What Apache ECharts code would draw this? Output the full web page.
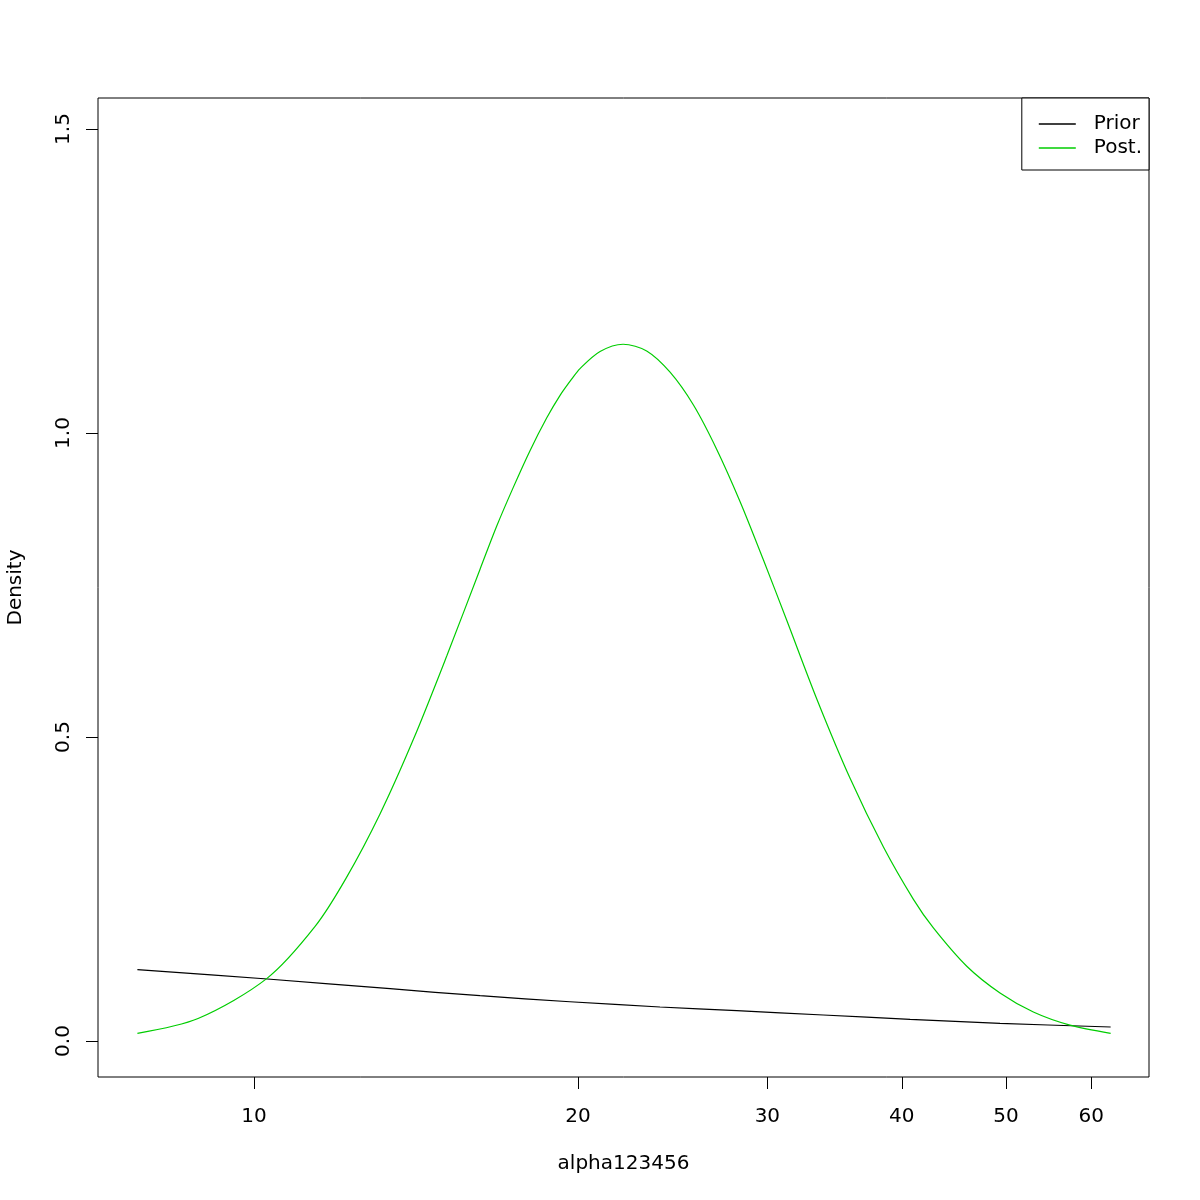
<!DOCTYPE html>
<html><head><meta charset="utf-8">
<script src="https://cdn.jsdelivr.net/npm/echarts@6/dist/echarts.min.js"></script>
<style>html,body{margin:0;padding:0;background:#fff}#c{width:1200px;height:1200px}</style>
</head><body><div id="c"></div>
<script>
// ---- data ----
const seriesNames = ['Prior', 'Post.'];
const priorAlpha   = [7.79, 10.29, 13.38, 16.22, 19.66, 23.84, 28.10, 33.81, 40.72, 49.36, 62.55];
const priorDensity = [0.1173, 0.1020, 0.0860, 0.0745, 0.0646, 0.0559, 0.0500, 0.0428, 0.0357, 0.0291, 0.0230];
const postAlpha   = [7.79, 8.87, 10.28, 11.39, 12.17, 13.09, 14.07, 15.11, 16.22, 16.81, 17.42, 18.05, 18.71, 19.25, 19.74, 20.09, 20.97, 22.03, 23.17, 24.36, 25.61, 26.92, 28.30, 29.75, 31.27, 33.34, 35.81, 38.46, 41.01, 42.80, 45.97, 49.36, 53.01, 57.33, 62.55];
const postDensity = [0.0127, 0.0370, 0.103, 0.188, 0.267, 0.373, 0.497, 0.634, 0.776, 0.847, 0.911, 0.971, 1.025, 1.062, 1.089, 1.106, 1.134, 1.146, 1.135, 1.100, 1.046, 0.973, 0.887, 0.791, 0.692, 0.563, 0.432, 0.319, 0.233, 0.186, 0.123, 0.079, 0.0478, 0.0262, 0.0127];
const xTickValues = [10, 20, 30, 40, 50, 60];
const yTickValues = [0, 0.5, 1.0, 1.5];
const xTitle = 'alpha123456';
const yTitle = 'Density';
const xRange = [7.16, 67.9];
const yRange = [-0.0592, 1.551];

const FONT = 'DejaVu Sans';
const toPts = (xs, ys) => xs.map((x, i) => [Math.log10(x), ys[i]]);

const chart = echarts.init(document.getElementById('c'), null, {renderer: 'canvas'});
chart.setOption({
  animation: false,
  backgroundColor: '#fff',
  textStyle: {fontFamily: FONT},
  grid: {left: 98, right: 51, top: 98, bottom: 123, show: true, borderColor: '#000', borderWidth: 1, backgroundColor: 'transparent', outerBoundsMode: 'none'},
  legend: {
    data: seriesNames.map(n => ({name: n, icon: 'rect'})),
    orient: 'vertical',
    right: 51, top: 98,
    padding: [14, 7, 10, 17],
    itemGap: 0,
    itemWidth: 37, itemHeight: 1.3,
    borderColor: '#000', borderWidth: 1, borderRadius: 0,
    backgroundColor: '#fff',
    textStyle: {fontSize: 20, color: '#000', fontFamily: FONT, lineHeight: 24, padding: [0, 0, 0, 13]}
  },
  xAxis: {
    type: 'value',
    min: Math.log10(xRange[0]), max: Math.log10(xRange[1]),
    name: xTitle, nameLocation: 'middle', nameGap: 77,
    nameTextStyle: {fontSize: 20, color: '#000', fontFamily: FONT},
    axisLine: {show: false, onZero: false},
    axisTick: {show: true, length: 12, customValues: xTickValues.map(Math.log10), lineStyle: {color: '#000', width: 1}},
    axisLabel: {customValues: xTickValues.map(Math.log10), fontSize: 20, color: '#000', fontFamily: FONT, margin: 30,
      formatter: v => String(Math.round(Math.pow(10, v)))},
    splitLine: {show: false}
  },
  yAxis: {
    type: 'value',
    min: yRange[0], max: yRange[1],
    name: yTitle, nameLocation: 'middle', nameGap: 72, nameRotate: 90,
    nameTextStyle: {fontSize: 20, color: '#000', fontFamily: FONT},
    axisLine: {show: false, onZero: false},
    axisTick: {show: true, length: 12, customValues: yTickValues, lineStyle: {color: '#000', width: 1}},
    axisLabel: {customValues: yTickValues, fontSize: 20, color: '#000', fontFamily: FONT, rotate: 90, margin: 24,
      formatter: v => v.toFixed(1)},
    splitLine: {show: false}
  },
  series: [
    {name: seriesNames[0], type: 'line', data: toPts(priorAlpha, priorDensity), symbol: 'none', showSymbol: false, smooth: 0.3,
      lineStyle: {color: '#000', width: 1.2}, itemStyle: {color: '#000'}},
    {name: seriesNames[1], type: 'line', data: toPts(postAlpha, postDensity), symbol: 'none', showSymbol: false, smooth: 0.3,
      lineStyle: {color: '#00CD00', width: 1.2}, itemStyle: {color: '#00CD00'}}
  ]
});
</script>
</body></html>
